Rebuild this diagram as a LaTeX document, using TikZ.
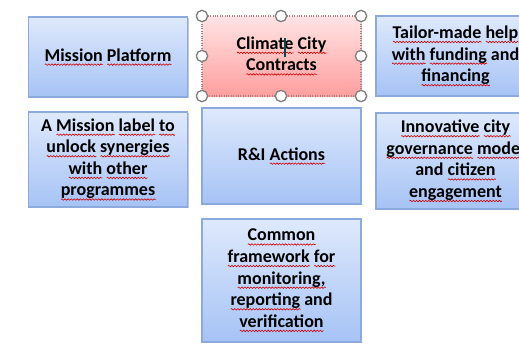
\documentclass[tikz,border=0pt]{standalone}
\usepackage{fontspec}
\setmainfont{Carlito}
\usetikzlibrary{shadows,decorations.pathmorphing}
\newsavebox\sqbox
\newdimen\sqw
\newcommand\sq[1]{\leavevmode\sbox\sqbox{#1}\sqw=\wd\sqbox\rlap{\tikz[baseline=0pt,x=1pt,y=1pt]\draw[solid,line width=0.45pt,draw=red!80!black,decorate,decoration={snake,amplitude=0.55pt,segment length=2.3pt}] (0pt,-2.7pt) -- (\sqw,-2.7pt);}\usebox\sqbox}
\definecolor{btop}{RGB}{222,233,252}
\definecolor{bbot}{RGB}{166,195,245}
\definecolor{bline}{RGB}{140,170,222}
\definecolor{rtop}{RGB}{255,228,228}
\definecolor{rbot}{RGB}{255,158,158}
\definecolor{rline}{RGB}{170,130,130}
\tikzset{
  box/.style={draw=bline, line width=0.8pt, top color=btop, bottom color=bbot,
    minimum width=119.25pt, align=center, inner sep=2pt,
    font=\fontsize{13.5}{16.2}\selectfont\bfseries,
    drop shadow={shadow xshift=1pt, shadow yshift=-1pt, fill=black, opacity=0.22}},
  redbox/.style={box, draw=rline, densely dotted, top color=rtop, bottom color=rbot},
  handle/.style={circle, draw=black!50, line width=1pt, fill=white, minimum size=8.5pt, inner sep=0pt}
}
\begin{document}
\begin{tikzpicture}[x=0.75pt, y=-0.75pt]
\useasboundingbox (0,0) rectangle (519,344);
\clip (0,0) rectangle (519,344);
\fill[white] (0,0) rectangle (519,344);
\node[box, minimum height=60pt] (mp) at (108,57) {\sq{Mission} \sq{Platform}};
\node[redbox, minimum height=60pt] (ccc) at (281.5,56) {\sq{Climate} \sq{City}\\ \sq{Contracts}};
\node[box, minimum height=60pt] (tmh) at (455.5,56) {\sq{Tailor-made} \sq{help}\\ \sq{with} \sq{funding} and\\ \sq{financing}};
\node[box, minimum height=71.25pt] (ml) at (108,159.5) {A \sq{Mission} \sq{label} \sq{to}\\ \sq{unlock} \sq{synergies}\\ \sq{with} \sq{other}\\ \sq{programmes}};
\node[box, minimum height=72pt] (ri) at (281.5,156) {R\&I \sq{Actions}};
\node[box, minimum height=72pt] (icg) at (455.5,161) {\sq{Innovative} \sq{city}\\ \sq{governance} \sq{model}\\ and \sq{citizen}\\ \sq{engagement}};
\node[box, minimum height=92.25pt] (cf) at (281.5,280.5) {\sq{Common}\\ \sq{framework} \sq{for}\\ \sq{monitoring,}\\ \sq{reporting} and\\ \sq{verification}};
\draw[teal!60!black, line width=0.8pt] (285,38) coordinate (c1) -- (285,57) coordinate (c2);
\node[handle] (h1) at (202,16) {};
\node[handle] (h2) at (281,16) {};
\node[handle] (h3) at (361,16) {};
\node[handle] (h4) at (202,56) {};
\node[handle] (h5) at (361,56) {};
\node[handle] (h6) at (202,96) {};
\node[handle] (h7) at (281,96) {};
\node[handle] (h8) at (361,96) {};
\end{tikzpicture}
\end{document}
